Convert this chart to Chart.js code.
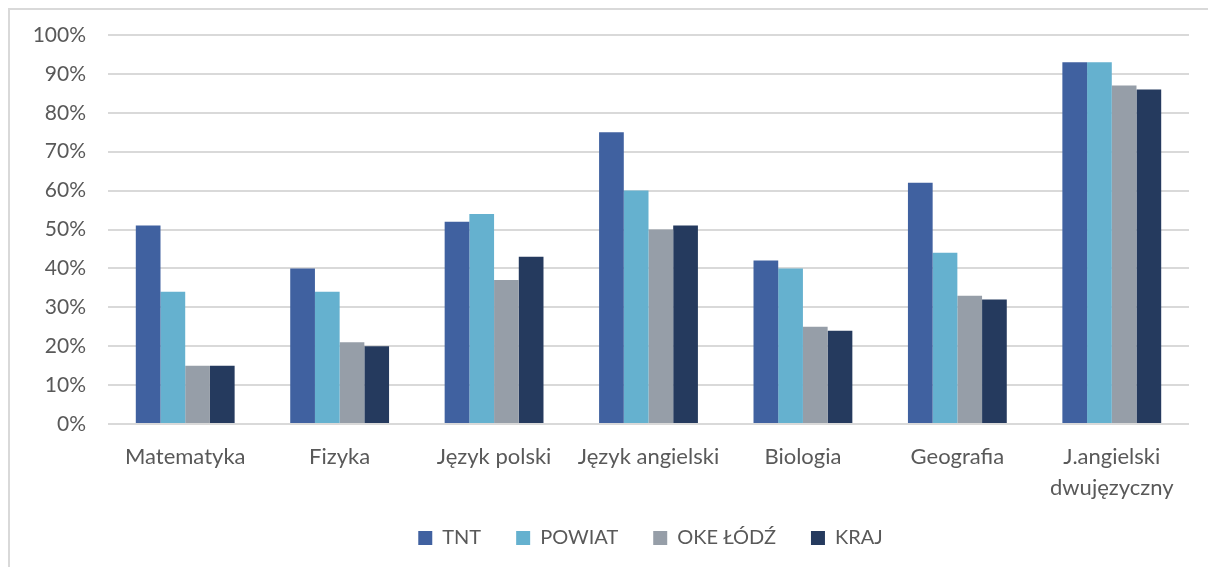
<!DOCTYPE html>
<html>
<head>
<meta charset="utf-8">
<script src="https://cdn.jsdelivr.net/npm/chart.js@4.4.0/dist/chart.umd.min.js"></script>
<style>
  body { margin: 0; background: #fff; overflow: hidden; }
  #wrap { position: relative; width: 1208px; height: 567px; }
  #frame { position: absolute; left: 8px; top: 8px; width: 1300px; height: 700px; border: 2px solid #d9d9d9; box-sizing: border-box; pointer-events: none; }
  canvas { position: absolute; left: 0; top: 0; }
</style>
</head>
<body>
<div id="wrap">
  <canvas id="chart" width="1208" height="567"></canvas>
  <div id="frame"></div>
</div>
<script>
const subjects = ["Matematyka", "Fizyka", "Język polski", "Język angielski", "Biologia", "Geografia", ["J.angielski", "dwujęzyczny"]];
const tnt = [51, 40, 52, 75, 42, 62, 93];
const powiat = [34, 34, 54, 60, 40, 44, 93];
const okeLodz = [15, 21, 37, 50, 25, 33, 87];
const kraj = [15, 20, 43, 51, 24, 32, 86];
const yTicks = [0, 10, 20, 30, 40, 50, 60, 70, 80, 90, 100];

const textColor = "#595959";
const fontFamily = "Lato, 'Open Sans', sans-serif";

// the original frame is wider than the crop, so its legend sits right of centre
const legendNudge = {
  id: "legendNudge",
  afterLayout(chart) {
    const lg = chart.legend;
    lg.left += 56;
    lg.right += 56;
    lg.top -= 6;
    lg.bottom -= 6;
  },
};

const ctx = document.getElementById("chart").getContext("2d");

new Chart(ctx, {
  type: "bar",
  data: {
    labels: subjects,
    datasets: [
      { label: "TNT", data: tnt, backgroundColor: "#4061a0" },
      { label: "POWIAT", data: powiat, backgroundColor: "#65b1cf" },
      { label: "OKE ŁÓDŹ", data: okeLodz, backgroundColor: "#969ea8" },
      { label: "KRAJ", data: kraj, backgroundColor: "#253a5e" },
    ],
  },
  plugins: [legendNudge],
  options: {
    responsive: false,
    animation: false,
    layout: { padding: { left: 0, right: 19, top: 35, bottom: 3 } },
    datasets: {
      bar: { categoryPercentage: 0.64, barPercentage: 1.0 },
    },
    plugins: {
      tooltip: { enabled: false },
      legend: {
        position: "bottom",
        labels: {
          boxWidth: 14,
          boxHeight: 14,
          padding: 35,
          color: textColor,
          font: { family: fontFamily, size: 20 },
        },
      },
    },
    scales: {
      x: {
        afterFit: (scale) => { scale.height = 75; },
        grid: { display: false },
        border: { display: false },
        ticks: {
          color: textColor,
          padding: 9,
          maxRotation: 0,
          font: { family: fontFamily, size: 22, lineHeight: 1.41 },
        },
      },
      y: {
        min: 0,
        max: 100,
        afterFit: (scale) => { scale.width = 108; },
        afterBuildTicks: (scale) => { scale.ticks = yTicks.map((v) => ({ value: v })); },
        grid: { color: "#d9d9d9", lineWidth: 2, drawTicks: false },
        border: { display: false },
        ticks: {
          color: textColor,
          padding: 22,
          font: { family: fontFamily, size: 21 },
          callback: (v) => v + "%",
        },
      },
    },
  },
});
</script>
</body>
</html>
